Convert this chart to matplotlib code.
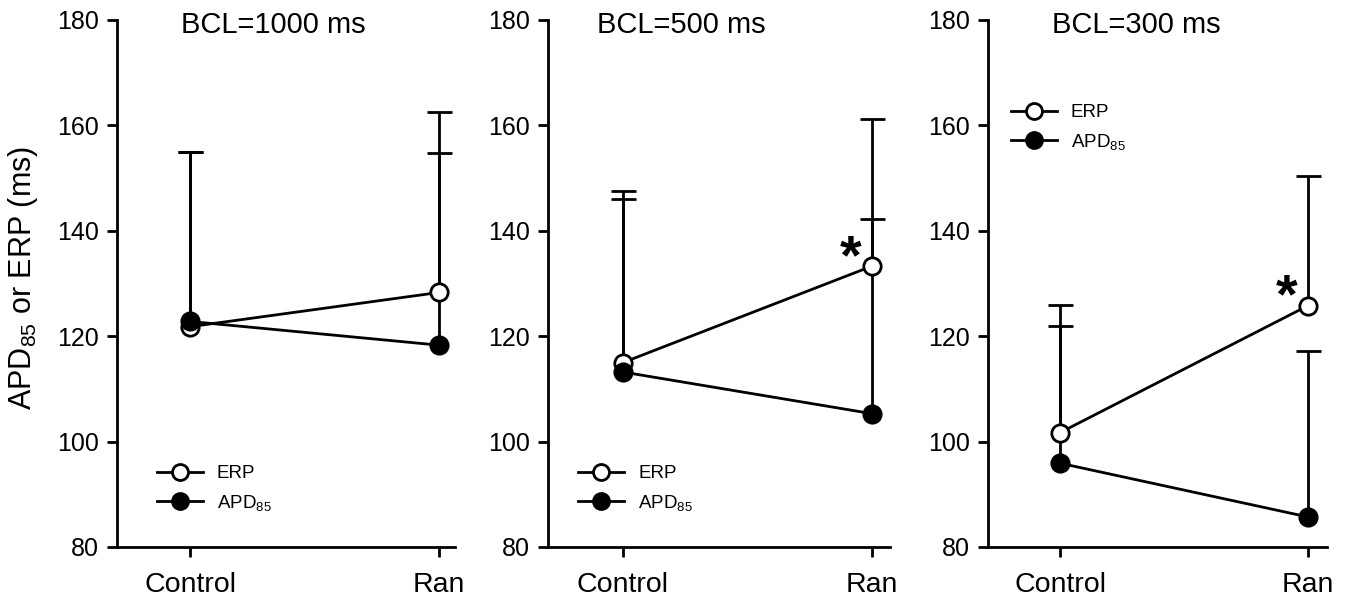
import numpy as np
import matplotlib
matplotlib.use("Agg")
import matplotlib.pyplot as plt

# ------------------------------------------------------------------
# data
# ------------------------------------------------------------------
groups = ['Control', 'Ran']
titles = ['BCL=1000 ms', 'BCL=500 ms', 'BCL=300 ms']

erp_mean = [[121.8, 128.3], [115.0, 133.3], [101.7, 125.8]]
erp_sd = [[33.2, 34.3], [32.5, 28.0], [24.3, 24.6]]
apd_mean = [[122.8, 118.3], [113.2, 105.3], [95.9, 85.7]]
apd_sd = [[32.2, 36.4], [32.8, 36.9], [26.1, 31.5]]

# which point carries a '*'  (panel, group index)
stars = [(1, 1), (2, 1)]

# ------------------------------------------------------------------
plt.rcParams['font.family'] = ['Liberation Sans', 'DejaVu Sans']
plt.rcParams['mathtext.default'] = 'regular'

W, H = 1351, 604
fig = plt.figure(figsize=(W / 100, H / 100), dpi=100)

# axes boxes in pixels: (left, right)
boxes = [(117, 455), (548, 890), (988, 1327)]
top_px, bot_px = 20, 547
ctrl_px = [190, 623, 1060]
ran_px = [439, 872, 1308]

x = np.arange(len(groups))
legend_at = [(0.118, 0.155), (0.088, 0.155), (0.067, 0.840)]
title_x = [0.463, 0.389, 0.437]
LW = 2.0


def up_errorbar(ax, xs, mean, sd):
    """Upper-only error bar with a single cap."""
    eb = ax.errorbar(xs, mean, yerr=[np.zeros_like(sd), sd], fmt='none',
                     ecolor='k', elinewidth=LW, capsize=9, capthick=LW,
                     zorder=2)
    eb[1][0].set_visible(False)  # drop the cap drawn at the mean
    return eb


for i in range(3):
    l, r = boxes[i]
    ax = fig.add_axes([l / W, (H - bot_px) / H, (r - l) / W, (bot_px - top_px) / H])

    # x limits so that Control / Ran fall where they do in the figure
    unit = ran_px[i] - ctrl_px[i]
    ax.set_xlim((l - ctrl_px[i]) / unit, (r - ctrl_px[i]) / unit)
    ax.set_ylim(80, 180)

    em, es = np.array(erp_mean[i]), np.array(erp_sd[i])
    am, asd = np.array(apd_mean[i]), np.array(apd_sd[i])

    up_errorbar(ax, x, em, es)
    up_errorbar(ax, x, am, asd)

    ax.plot(x, em, '-o', color='k', lw=LW, ms=12.5, mfc='white', mec='k',
            mew=LW, zorder=3, label='ERP')
    ax.plot(x, am, '-o', color='k', lw=LW, ms=12.5, mfc='k', mec='k',
            mew=LW, zorder=4, label='APD$_{85}$')

    for p, g in stars:
        if p == i:
            ax.annotate('*', xy=(x[g], em[g]), xytext=(-15.5, -4.8),
                        textcoords='offset points', ha='center', va='baseline',
                        fontsize=40, fontweight='bold')

    ax.text(title_x[i], 0.99, titles[i], transform=ax.transAxes,
            ha='center', va='center', fontsize=21)

    for s in ['top', 'right']:
        ax.spines[s].set_visible(False)
    for s in ['left', 'bottom']:
        ax.spines[s].set_linewidth(LW)

    ax.set_yticks(np.arange(80, 181, 20))
    ax.set_xticks(x)
    ax.set_xticklabels(groups)
    ax.tick_params(axis='y', direction='out', length=7, width=LW,
                   labelsize=18, pad=6)
    ax.tick_params(axis='x', direction='out', length=7, width=LW,
                   labelsize=20.5, pad=11)

    ax.legend(loc='upper left', bbox_to_anchor=legend_at[i], frameon=False,
              fontsize=13.5, handlelength=2.45, handletextpad=0.75,
              labelspacing=0.55, borderpad=0, borderaxespad=0,
              markerscale=0.92)

    if i == 0:
        ax.set_ylabel('APD$_{85}$ or ERP (ms)', fontsize=22)
        ax.yaxis.set_label_coords(-0.228, 0.510)

fig.savefig('out.png', dpi=100)
